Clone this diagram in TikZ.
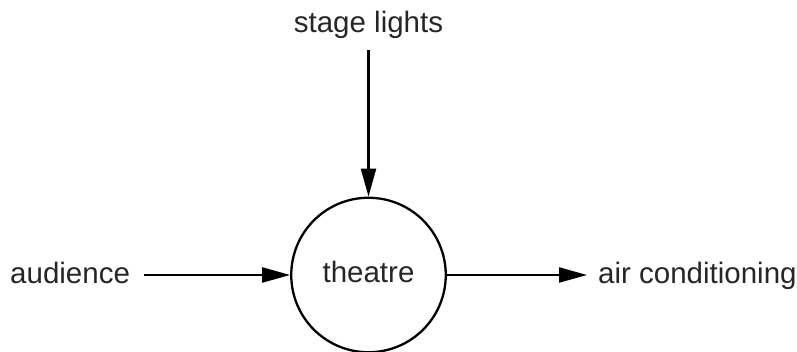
\documentclass[tikz,border=0pt]{standalone}
\usepackage{fontspec}
\setmainfont{Liberation Sans}
\usetikzlibrary{arrows.meta}
\begin{document}
\begin{tikzpicture}[x=1pt,y=-1pt,
  lbl/.style={font=\fontsize{29.5}{34}\selectfont, inner sep=0pt, text=black!85},
  conn/.style={line width=2.2pt, -{Triangle[length=28pt,width=15pt]}}]
\useasboundingbox (0,0) rectangle (797,352);
\node[draw, circle, line width=2.3pt, minimum size=154.5pt, inner sep=0pt] (th) at (368.5,275) {};
\node[lbl, anchor=base] (thl) at (368.5,283) {theatre};
\node[lbl, anchor=base] (sl) at (368.5,33) {stage lights};
\node[lbl, anchor=base west] (aud) at (10,283.5) {audience};
\node[lbl, anchor=base west] (ac) at (598,283.5) {air conditioning};
\coordinate (slb) at (sl.south |- 0,50);
\draw[conn] (slb) -- (th.north);
\draw[conn, shorten <=14pt] (aud.east |- th.center) -- (th.west);
\draw[conn, shorten >=11pt] (th.east) -- (ac.west |- th.center);
\end{tikzpicture}
\end{document}
